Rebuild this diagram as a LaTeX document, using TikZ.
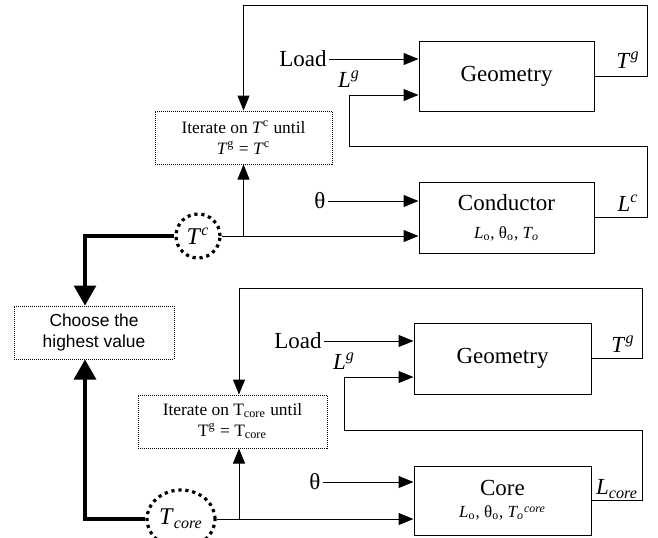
\documentclass[tikz,border=0pt]{standalone}
\usepackage{fontspec}
\setmainfont{Liberation Serif}
\newfontfamily\arialfont{Liberation Sans}
\usetikzlibrary{arrows.meta,positioning,shapes.geometric}

\begin{document}
\begin{tikzpicture}[x=0.5pt, y=-0.5pt, line width=0.5pt,
	>={Triangle[length=7.5pt,width=6pt]},
	block/.style={draw, minimum width=87.5pt, minimum height=35pt, inner sep=0pt,
		align=center, font=\fontsize{11.5}{13}\selectfont},
	check/.style={draw, dash pattern=on 0.5pt off 0.5pt, minimum height=26.5pt,
		inner sep=0pt, align=center, font=\fontsize{8.7}{10.5}\selectfont},
	var/.style={draw, line width=1.6pt, dash pattern=on 1.6pt off 1.9pt,
		inner sep=0pt, font=\fontsize{12}{13}\selectfont},
	lab/.style={inner sep=1pt, font=\fontsize{11.5}{13}\selectfont},
	feed/.style={->},
	pick/.style={-{Triangle[length=10pt,width=11pt]}, line width=1.65pt}]
\useasboundingbox (0,0) rectangle (658,537);

% conductor loop
\node[block] (geo1) at (506.5,76) {Geometry};
\node[block, minimum height=35.5pt] (cond) at (506.5,217.5)
	{\raisebox{-2pt}{Conductor}\\[3pt]{\fontsize{8.5}{10}\selectfont \textit{L}\textsubscript{o}, θ\textsubscript{o}, \textit{T\textsubscript{o}}}};
\node[check, minimum width=88.5pt] (iter1) at (243.5,137.5)
	{Iterate on \textit{T}\textsuperscript{c} until\\\textit{T}\textsuperscript{g} = \textit{T}\textsuperscript{c}};
\node[var, circle, minimum size=22pt] (tc) at (198,236) {\textit{T}\textsuperscript{\textit{c}}};

\node[lab] (load1) at (303,59) {Load};
\node[lab] (th1) at (320,201) {θ};
\coordinate (lg1) at (349,95);
\node[lab] (lgl1) at (349,79) {\textit{L}\textsuperscript{\textit{g}}};
\node[lab] (tg1) at (628,60) {\textit{T}\textsuperscript{\textit{g}}};
\node[lab] (lc1) at (628,203) {\textit{L}\textsuperscript{\textit{c}}};

\draw[feed] (load1) -- (load1 -| geo1.west);
\draw[feed] (th1) -- (th1 -| cond.west);
\draw[feed] (tc) -- (tc -| cond.west);
\draw[feed] (tc -| iter1.south) -- (iter1.south);
\draw[feed] (geo1.east) -| (647,5) -| (iter1.north);
\draw[feed] (cond.east) -| (647,146) -| (lg1) -- (lg1 -| geo1.west);

% core loop
\node[block, minimum width=88.5pt, minimum height=35.5pt] (geo2) at (502.5,358.5) {Geometry};
\node[block, minimum width=88.5pt, minimum height=34.5pt] (core) at (502.5,500.5)
	{Core\\[-2pt]{\fontsize{8.5}{10}\selectfont \textit{L}\textsubscript{o}, θ\textsubscript{o}, \textit{T\textsubscript{o}\textsuperscript{core}}}};
\node[check, minimum width=94.5pt] (iter2) at (232.5,421.5)
	{Iterate on T\textsubscript{core} until\\T\textsuperscript{g} = T\textsubscript{core}};
\node[var, ellipse, minimum width=34pt, minimum height=29pt] (tcore) at (181,519)
	{\textit{T}\textsubscript{\textit{core}}};
\coordinate (in2) at ([xshift=3.25pt]iter2.north);
\coordinate (out2) at ([xshift=3.25pt]iter2.south);

\node[lab] (load2) at (298,341) {Load};
\node[lab] (th2) at (315,482) {θ};
\coordinate (lg2) at (344,377);
\node[lab] (lgl2) at (344,361) {\textit{L}\textsuperscript{\textit{g}}};
\node[lab] (tg2) at (623,344) {\textit{T}\textsuperscript{\textit{g}}};
\node[lab] (lcore) at (617,489) {\textit{L}\textsubscript{\textit{core}}};

\draw[feed] (load2) -- (load2 -| geo2.west);
\draw[feed] (th2) -- (th2 -| core.west);
\draw[feed] (tcore) -- (tcore -| core.west);
\draw[feed] (tcore -| out2) -- (out2);
\draw[feed] (geo2.east) -| (642,288) -| (in2);
\draw[feed] (core.east) -| (642,430) -| (lg2) -- (lg2 -| geo2.west);

% pick the larger
\node[check, minimum width=80pt, font=\arialfont\fontsize{8.7}{10.5}\selectfont] (choose) at (94,332.5)
	{Choose the\\highest value};
\coordinate (cin) at ([xshift=-4.5pt]choose.north);
\coordinate (cin2) at ([xshift=-4.5pt]choose.south);
\draw[pick] (tc) -| (cin);
\draw[pick] (tcore) -| (cin2);
\end{tikzpicture}
\end{document}
